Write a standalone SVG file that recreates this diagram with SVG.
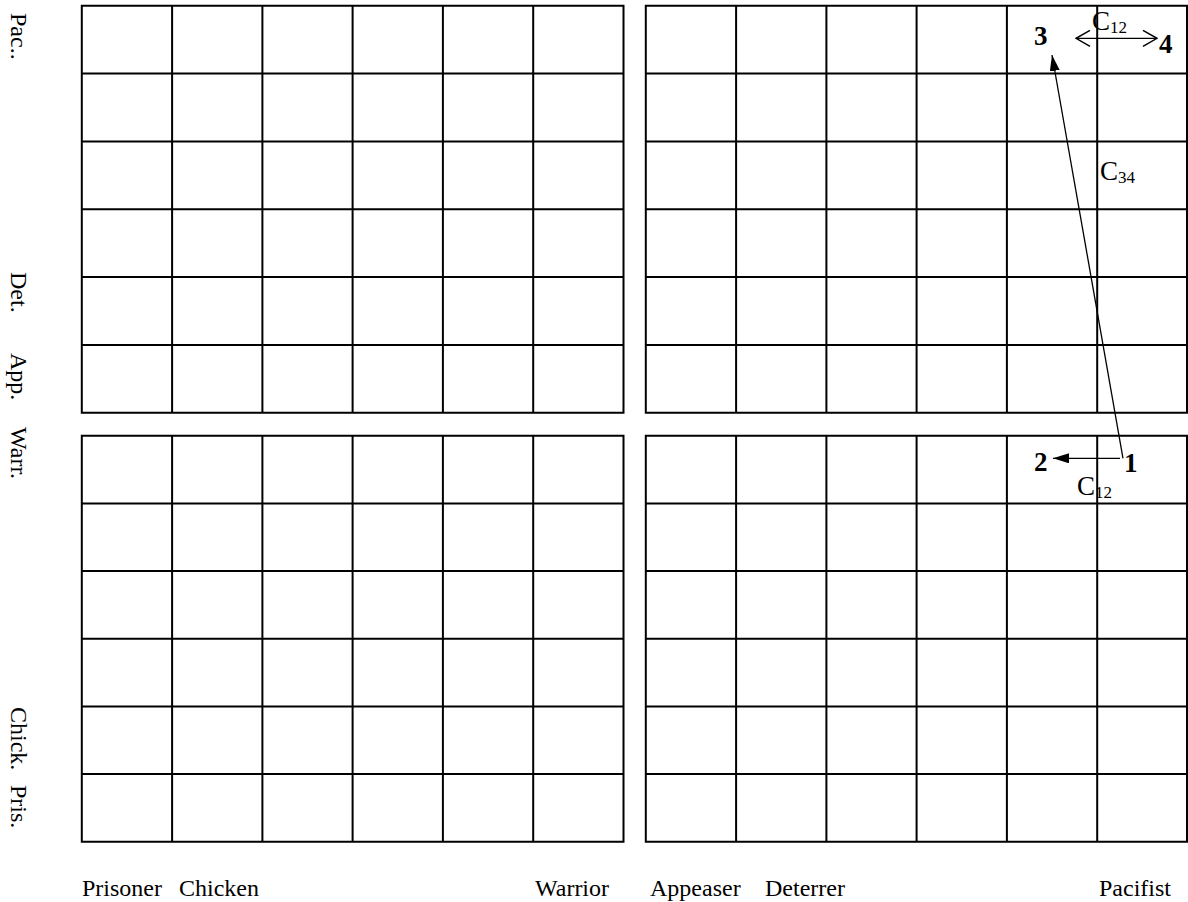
<svg xmlns="http://www.w3.org/2000/svg" width="1188" height="902" viewBox="0 0 1188 902">
<style>
.g{fill:none;stroke:#000;stroke-width:2}
.t{font-family:"Liberation Serif","Times New Roman",serif;font-size:24px;fill:#000}
.n{font-family:"Liberation Serif","Times New Roman",serif;font-size:27px;font-weight:bold;fill:#000}
.c{font-family:"Liberation Serif","Times New Roman",serif;font-size:27px;fill:#000}
.s{font-size:17px}
.a{fill:none;stroke:#000;stroke-width:1.3}
</style>
<defs>
<marker id="fa" viewBox="0 0 16 10" refX="16" refY="5" markerWidth="16" markerHeight="10" markerUnits="userSpaceOnUse" orient="auto"><path d="M0,0 L16,5 L0,10 Z" fill="#000"/></marker>
<marker id="oa" viewBox="0 0 16 18" refX="15" refY="9" markerWidth="16" markerHeight="18" markerUnits="userSpaceOnUse" orient="auto-start-reverse"><path d="M1,1 L15,9 L1,17" fill="none" stroke="#000" stroke-width="1.5"/></marker>
</defs>
<rect width="1188" height="902" fill="#fff"/>
<g id="grid-top-left">
<path class="g" d="M81.8,5.7H623.5V412.8H81.8Z M172.1,5.7V412.8 M262.4,5.7V412.8 M352.6,5.7V412.8 M442.9,5.7V412.8 M533.2,5.7V412.8 M81.8,73.6H623.5 M81.8,141.4H623.5 M81.8,209.3H623.5 M81.8,277.1H623.5 M81.8,345H623.5"/>
</g>
<g id="grid-top-right">
<path class="g" d="M645.8,5.7H1187V412.8H645.8Z M736.1,5.7V412.8 M826.4,5.7V412.8 M916.6,5.7V412.8 M1006.9,5.7V412.8 M1097.2,5.7V412.8 M645.8,73.6H1187 M645.8,141.4H1187 M645.8,209.3H1187 M645.8,277.1H1187 M645.8,345H1187"/>
</g>
<g id="grid-bottom-left">
<path class="g" d="M81.8,435.8H623.5V841.8H81.8Z M172.1,435.8V841.8 M262.4,435.8V841.8 M352.6,435.8V841.8 M442.9,435.8V841.8 M533.2,435.8V841.8 M81.8,503.5H623.5 M81.8,571.1H623.5 M81.8,638.8H623.5 M81.8,706.5H623.5 M81.8,774.1H623.5"/>
</g>
<g id="grid-bottom-right">
<path class="g" d="M645.8,435.8H1187V841.8H645.8Z M736.1,435.8V841.8 M826.4,435.8V841.8 M916.6,435.8V841.8 M1006.9,435.8V841.8 M1097.2,435.8V841.8 M645.8,503.5H1187 M645.8,571.1H1187 M645.8,638.8H1187 M645.8,706.5H1187 M645.8,774.1H1187"/>
</g>
<g id="connectors">
<line class="a" x1="1120" y1="458.3" x2="1053" y2="458.3" marker-end="url(#fa)"/>
<line class="a" x1="1123" y1="458.3" x2="1052" y2="55" marker-end="url(#fa)"/>
<line class="a" x1="1076" y1="38.3" x2="1157" y2="38.3" marker-start="url(#oa)" marker-end="url(#oa)"/>
</g>
<g id="node-1"><text class="n" x="1124" y="472">1</text></g>
<g id="node-2"><text class="n" x="1034" y="471">2</text></g>
<g id="node-3"><text class="n" x="1034" y="45">3</text></g>
<g id="node-4"><text class="n" x="1159" y="53">4</text></g>
<g id="labels">
<text class="c" x="1092" y="30">C<tspan class="s" dy="3">12</tspan></text>
<text class="c" x="1077" y="495">C<tspan class="s" dy="3">12</tspan></text>
<text class="c" x="1100" y="180">C<tspan class="s" dy="3">34</tspan></text>
<text class="t" transform="translate(11,13) rotate(90)">Pac..</text>
<text class="t" transform="translate(11,272) rotate(90)">Det.</text>
<text class="t" transform="translate(11,353) rotate(90)">App.</text>
<text class="t" transform="translate(11,427) rotate(90)">Warr.</text>
<text class="t" transform="translate(11,707) rotate(90)">Chick.</text>
<text class="t" transform="translate(11,785) rotate(90)">Pris.</text>
<text class="t" x="82" y="896">Prisoner</text>
<text class="t" x="179" y="896">Chicken</text>
<text class="t" x="535" y="896">Warrior</text>
<text class="t" x="650" y="896">Appeaser</text>
<text class="t" x="765" y="896">Deterrer</text>
<text class="t" x="1099" y="896">Pacifist</text>
</g>
</svg>
